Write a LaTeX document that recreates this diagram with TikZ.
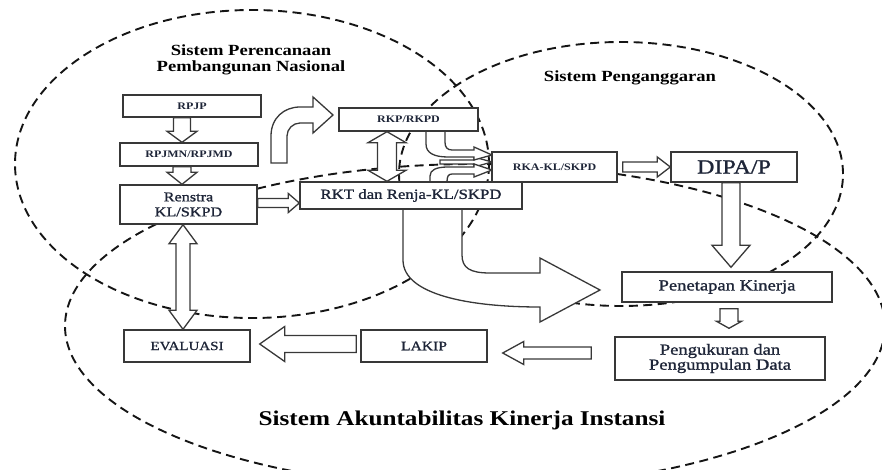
\documentclass[tikz,border=0pt]{standalone}
\usepackage{fontspec}
\setmainfont{Liberation Serif}[FakeStretch=1.2]
\newfontfamily\boxfont{Liberation Serif}[FakeStretch=1.2, FakeBold=1.2]
\usetikzlibrary{calc}
\definecolor{boxline}{HTML}{383838}
\definecolor{txt}{HTML}{1E2538}
\definecolor{dashc}{HTML}{151515}
\tikzset{
  sys/.style={draw=dashc, line width=1.9pt, dash pattern=on 9pt off 5.5pt},
  box/.style={draw=boxline, line width=1.4pt, fill=white, text=txt, inner sep=0pt, align=center},
  blockarr/.style={draw=boxline, line width=1.3pt, fill=white, line join=miter},
  systitle/.style={font=\bfseries\fontsize{15.5}{16}\selectfont, align=center, text=black}
}
% straight block arrow: start, end, half shaft, half head, head length
\newcommand\barrow[5]{%
  \path[blockarr] let \p1=(#1), \p2=(#2), \n1={atan2(\y2-\y1,\x2-\x1)}, \n2={veclen(\x2-\x1,\y2-\y1)} in
   [shift={(\p1)}, rotate=\n1] (0,#3) -- (\n2-#5,#3) -- (\n2-#5,#4) -- (\n2,0) -- (\n2-#5,-#4) -- (\n2-#5,-#3) -- (0,-#3) -- cycle;}
% double-headed block arrow
\newcommand\bdarrow[5]{%
  \path[blockarr] let \p1=(#1), \p2=(#2), \n1={atan2(\y2-\y1,\x2-\x1)}, \n2={veclen(\x2-\x1,\y2-\y1)} in
   [shift={(\p1)}, rotate=\n1] (#5,#3) -- (\n2-#5,#3) -- (\n2-#5,#4) -- (\n2,0) -- (\n2-#5,-#4) -- (\n2-#5,-#3) -- (#5,-#3) -- (#5,-#4) -- (0,0) -- (#5,#4) -- cycle;}
\begin{document}
\begin{tikzpicture}[x=1pt,y=1pt]
\useasboundingbox (0,0) rectangle (882,-470);
\clip (0,0) rectangle (882,-470);
% system ellipses
\draw[sys] (252,-164) ellipse [x radius=237pt, y radius=154pt];
\draw[sys] (621,-174) ellipse [x radius=222pt, y radius=132pt];
\draw[sys] (475,-326) ellipse [x radius=410pt, y radius=162pt];

% system titles
\node[systitle] (tplan) at (251,-60) {Sistem Perencanaan\\Pembangunan Nasional};
\node[systitle] (tbudget) at (630,-78) {Sistem Penganggaran};
\node[font=\bfseries\fontsize{21}{22}\selectfont, text=black] (tacc) at (462,-420) {Sistem Akuntabilitas Kinerja Instansi};

% boxes
\node[box, minimum width=138pt, minimum height=22pt, font=\bfseries\fontsize{10}{11}\selectfont] (rpjp) at (192,-106) {RPJP};
\node[box, minimum width=138pt, minimum height=23pt, font=\bfseries\fontsize{10}{11}\selectfont] (rpjmn) at (189,-154.5) {RPJMN/RPJMD};
\node[box, minimum width=137pt, minimum height=39pt, font=\boxfont\fontsize{13.5}{15}\selectfont] (renstra) at (188.5,-204.5) {Renstra\\KL/SKPD};
\node[box, minimum width=126pt, minimum height=32pt, font=\boxfont\fontsize{12.5}{13}\selectfont] (evaluasi) at (187,-346) {EVALUASI};
\node[box, minimum width=126pt, minimum height=32pt, font=\boxfont\fontsize{13}{14}\selectfont] (lakip) at (424,-346) {LAKIP};
\node[box, minimum width=210pt, minimum height=43pt, font=\boxfont\fontsize{15.5}{15}\selectfont] (pengukuran) at (720,-358.5) {Pengukuran dan\\Pengumpulan Data};

% arrows (drawn under the upper boxes)
% curved arrow towards RKP
\path[blockarr] (271,-163) -- (271,-136) .. controls (271,-118) and (284,-107) .. (300,-107) -- (313,-107) -- (313,-97) -- (333,-115) -- (313,-133) -- (313,-123) -- (300,-123) .. controls (293,-123) and (287,-129) .. (287,-136) -- (287,-163) -- cycle;
% big curved arrow from RKT towards Penetapan Kinerja
\path[blockarr] (403,-209) -- (403,-260) .. controls (403,-295) and (470,-307) .. (540,-307) -- (540,-322) -- (600,-290) -- (540,-258) -- (540,-273) -- (490,-273) .. controls (470,-273) and (462,-268) .. (462,-255) -- (462,-209) -- cycle;
% merging arrows into RKA
\path[blockarr] (440,-160) -- (474,-160) -- (474,-157) -- (492,-162) -- (474,-167) -- (474,-164) -- (440,-164) -- cycle;
\path[blockarr] (426,-131) -- (426,-144) .. controls (426,-153) and (434,-157) .. (448,-157) -- (474,-157) -- (474,-160) -- (492,-155) -- (474,-147) -- (474,-150) -- (452,-150) .. controls (447,-150) and (445,-147) .. (445,-142) -- (445,-131) -- cycle;
\path[blockarr] (430,-182) -- (430,-176) .. controls (430,-170) and (436,-167) .. (448,-167) -- (474,-167) -- (474,-164) -- (492,-170) -- (474,-177) -- (474,-174) -- (452,-174) .. controls (448,-174) and (447,-177) .. (447,-182) -- cycle;

\node[box, minimum width=139pt, minimum height=23pt, font=\bfseries\fontsize{10}{11}\selectfont] (rkp) at (408.5,-119.5) {RKP/RKPD};
\node[box, minimum width=222pt, minimum height=27pt, font=\boxfont\fontsize{14}{15}\selectfont] (rkt) at (411,-195.5) {RKT dan Renja-KL/SKPD};
\node[box, minimum width=125pt, minimum height=30pt, font=\bfseries\fontsize{10}{11}\selectfont] (rka) at (554.5,-167) {RKA-KL/SKPD};
\node[box, minimum width=126pt, minimum height=30pt, font=\boxfont\fontsize{20}{21}\selectfont] (dipa) at (734,-167) {DIPA/P};
\node[box, minimum width=210pt, minimum height=30pt, font=\boxfont\fontsize{15.5}{16}\selectfont] (penetapan) at (727,-287) {Penetapan Kinerja};

% straight block arrows between boxes
\barrow{182,0 |- rpjp.south}{182,0 |- rpjmn.north}{8.5}{15}{11}
\barrow{182,0 |- rpjmn.south}{182,0 |- renstra.north}{9}{15}{12}
\barrow{0,-203 -| renstra.east}{0,-203 -| rkt.west}{4.5}{9.5}{11}
\bdarrow{183,0 |- evaluasi.north}{183,0 |- renstra.south}{7}{14}{19}
\bdarrow{387,0 |- rkt.north}{387,0 |- rkp.south}{9.5}{19}{11}
\barrow{$(rka.east)+(5,0)$}{dipa.west}{5}{10}{13}
\barrow{$(dipa.south)+(-3,0)$}{$(penetapan.north)+(4,4)$}{9}{19}{22}
\barrow{$(penetapan.south)+(2,-6)$}{$(pengukuran.north)+(9,8)$}{9}{12.5}{7}
\barrow{$(pengukuran.west)+(-23,5.5)$}{$(lakip.east)+(15,-7)$}{6}{11.5}{21}
\barrow{$(lakip.west)+(-4,2)$}{$(evaluasi.east)+(9,2)$}{8.5}{17.5}{25}
\end{tikzpicture}
\end{document}
